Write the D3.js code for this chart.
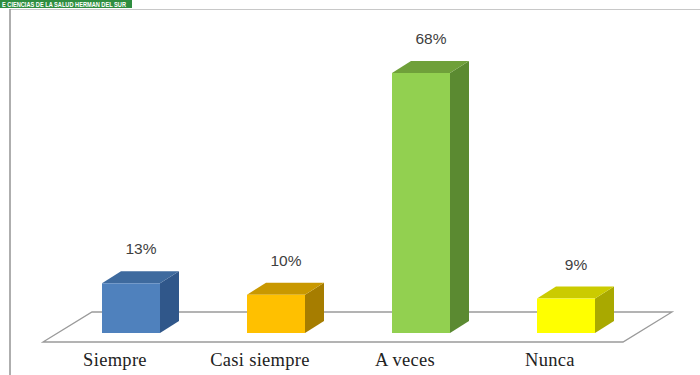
<!DOCTYPE html>
<html>
<head>
<meta charset="utf-8">
<script src="https://cdn.jsdelivr.net/npm/d3@7/dist/d3.min.js"></script>
<style>
  html, body { margin: 0; padding: 0; background: #fff; }
  svg { display: block; }
</style>
</head>
<body>
<script>
// Survey answers and their share (%)
const categories = ["Siempre", "Casi siempre", "A veces", "Nunca"];
const percentages = [13, 10, 68, 9];
const valueLabels = ["13%", "10%", "68%", "9%"];
const frontColors = ["#4F81BD", "#FFC000", "#92D050", "#FFFF00"];
const topColors   = ["#3E6A9E", "#C99800", "#6FA03A", "#CBCB00"];
const sideColors  = ["#30578A", "#A67D00", "#5B8A31", "#A9A900"];

const W = 700, H = 375;
const svg = d3.select("body").append("svg").attr("width", W).attr("height", H);

// header band and frame
svg.append("rect").attr("x", 0).attr("y", 0).attr("width", 132).attr("height", 8).attr("fill", "#2F8E40");
svg.append("text").attr("x", 2).attr("y", 6.5).attr("fill", "#fff")
  .attr("font-family", "Liberation Sans, Arial, sans-serif").attr("font-weight", "bold")
  .attr("font-size", 6.5).attr("textLength", 124).attr("lengthAdjust", "spacingAndGlyphs")
  .text("E CIENCIAS DE LA SALUD HERMAN DEL SUR");
svg.append("line").attr("x1", 10).attr("x2", W).attr("y1", 9.5).attr("y2", 9.5)
  .attr("stroke", "#c8c8c8").attr("stroke-width", 1);
svg.append("line").attr("x1", 10).attr("x2", 10).attr("y1", 9).attr("y2", H)
  .attr("stroke", "#9a9a9a").attr("stroke-width", 1.6);

// scales
const x = d3.scaleBand().domain(categories).range([58.5, 638.5])
  .paddingInner(0.6).paddingOuter(0.3);
const y = d3.scaleLinear().domain([0, 68]).range([333, 73]);

// 3D depth of the bars and of the floor
const dx = 19, dy = -12;
const floorBack = 312, floorFront = 342;
const floorBackX = [92, 672], floorFrontX = [43, 623];

// floor plane
svg.append("polygon")
  .attr("points", [
    [floorFrontX[0], floorFront], [floorBackX[0], floorBack],
    [floorBackX[1], floorBack], [floorFrontX[1], floorFront]
  ].map(p => p.join(",")).join(" "))
  .attr("fill", "none").attr("stroke", "#9a9a9a").attr("stroke-width", 1.3);

const data = categories.map((c, i) => ({ c, v: percentages[i], i }));
const g = svg.append("g");

data.forEach(d => {
  const x0 = x(d.c), x1 = x0 + x.bandwidth();
  const yt = y(d.v), yb = y(0);
  const bar = g.append("g");
  // right side face
  bar.append("polygon")
    .attr("points", [[x1, yb], [x1 + dx, yb + dy], [x1 + dx, yt + dy], [x1, yt]].map(p => p.join(",")).join(" "))
    .attr("fill", sideColors[d.i]);
  // top face
  bar.append("polygon")
    .attr("points", [[x0, yt], [x0 + dx, yt + dy], [x1 + dx, yt + dy], [x1, yt]].map(p => p.join(",")).join(" "))
    .attr("fill", topColors[d.i]);
  // front face
  bar.append("rect").attr("x", x0).attr("y", yt).attr("width", x.bandwidth()).attr("height", yb - yt)
    .attr("fill", frontColors[d.i]);

  // value label
  svg.append("text")
    .attr("x", x0 + x.bandwidth() / 2 + 10).attr("y", yt - 29)
    .attr("text-anchor", "middle")
    .attr("font-family", "Liberation Sans, Arial, sans-serif").attr("font-size", 15.5)
    .attr("fill", "#404040").text(valueLabels[d.i]);

  // category label
  svg.append("text")
    .attr("x", x0 + x.bandwidth() / 2 - 16).attr("y", 366)
    .attr("text-anchor", "middle")
    .attr("font-family", "Liberation Serif, Times New Roman, serif").attr("font-size", 18.5)
    .attr("letter-spacing", 0.3)
    .attr("fill", "#222").text(d.c);
});
</script>
</body>
</html>
